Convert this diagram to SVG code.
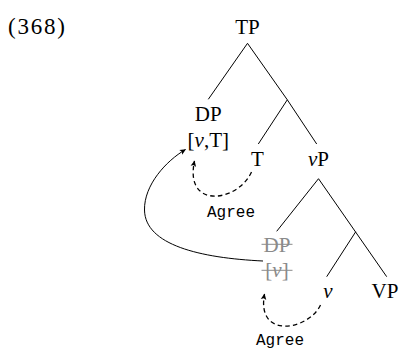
<svg xmlns="http://www.w3.org/2000/svg" width="400" height="349" viewBox="0 0 400 349">
<style>
.t{font-family:"Liberation Serif","Times New Roman",serif;font-size:21px;fill:#000;text-anchor:middle}
.g{fill:#8a8a8a}
.i{font-style:italic}
.m{font-family:"Liberation Mono","DejaVu Sans Mono",monospace;font-size:16px;fill:#000;text-anchor:middle}
.e{stroke:#000;stroke-width:1;fill:none}
.d{stroke:#000;stroke-width:1.3;fill:none;stroke-dasharray:4.5 3.2}
.s{stroke:#8a8a8a;stroke-width:1}
</style>
<defs>
<marker id="ah" markerUnits="userSpaceOnUse" markerWidth="10" markerHeight="10" viewBox="-7 -5 10 10" refX="0" refY="0" orient="auto">
<path d="M0.5,0 L-5.5,-2.8 L-4.2,0 L-5.5,2.8 Z" fill="#000"/>
</marker>
</defs>
<text class="t" x="8" y="34" style="text-anchor:start;font-size:23px" textLength="57" lengthAdjust="spacing">(368)</text>
<g id="connectors">
<line class="e" x1="247.5" y1="43.3" x2="208.3" y2="99.3"/>
<line class="e" x1="247.5" y1="43.3" x2="287.3" y2="99.8"/>
<line class="e" x1="287.3" y1="99.8" x2="258.3" y2="144"/>
<line class="e" x1="287.3" y1="99.8" x2="316.7" y2="144"/>
<line class="e" x1="318.5" y1="178.7" x2="276.7" y2="231.3"/>
<line class="e" x1="318.5" y1="178.7" x2="386.7" y2="276.7"/>
<line class="e" x1="355.7" y1="231.8" x2="326.7" y2="276.7"/>
<path class="d" d="M251.5,172 C238,202 184,210 194.5,161" marker-end="url(#ah)"/>
<path class="d" d="M320.5,305 C309,330 256,340 264.5,294" marker-end="url(#ah)"/>
<path class="e" d="M263,261 C200,258 145,245 144.5,210 C144,185 166,161 185.5,149.5" marker-end="url(#ah)"/>
</g>
<g id="TP"><text class="t" x="247.5" y="33.8">TP</text></g>
<g id="DP1">
<text class="t" x="208.3" y="120.5">DP</text>
<text class="t" x="208.3" y="146.5">[<tspan class="i">v</tspan>,T]</text>
</g>
<g id="T"><text class="t" x="257.5" y="165.8">T</text></g>
<g id="vP"><text class="t" x="318.5" y="165.8"><tspan class="i">v</tspan>P</text></g>
<g id="DP2">
<text class="t g" x="277" y="251.7">DP</text>
<line class="s" x1="261.5" y1="244.3" x2="292.5" y2="244.3"/>
<text class="t g" x="277" y="277.3">[<tspan class="i">v</tspan>]</text>
<line class="s" x1="261.5" y1="270.3" x2="292.5" y2="270.3"/>
</g>
<g id="v"><text class="t i" x="328" y="298">v</text></g>
<g id="VP"><text class="t" x="385" y="298">VP</text></g>
<g id="agree1"><text class="m" x="231" y="216.5">Agree</text></g>
<g id="agree2"><text class="m" x="280" y="344.5">Agree</text></g>
</svg>
